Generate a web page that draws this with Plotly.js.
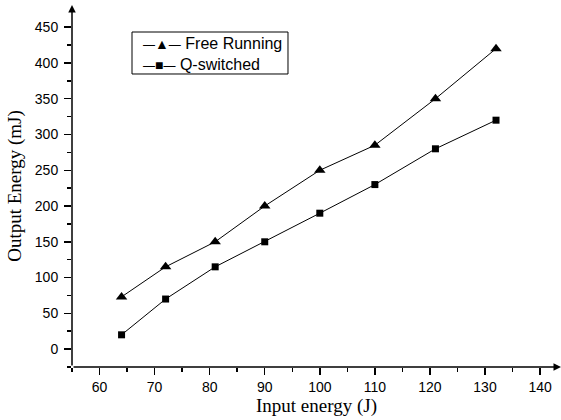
<!DOCTYPE html>
<html>
<head>
<meta charset="utf-8">
<script src="https://cdn.plot.ly/plotly-3.0.1.min.js"></script>
<style>html,body{margin:0;padding:0;background:#fff;}#chart{width:561px;height:420px;}</style>
</head>
<body>
<div id="chart"></div>
<script>
var seriesNames = ['Free Running', 'Q-switched'];
var seriesSymbols = ['▲', '■'];
var inputEnergy = [64, 72, 81, 90, 100, 110, 121, 132];
var freeRunning = [73, 115, 150, 200, 250, 285, 350, 420];
var qSwitched = [20, 70, 115, 150, 190, 230, 280, 320];
var xTickVals = [60, 70, 80, 90, 100, 110, 120, 130, 140];
var xMinorVals = [55, 65, 75, 85, 95, 105, 115, 125, 135];
var yTickVals = [0, 50, 100, 150, 200, 250, 300, 350, 400, 450];
var yMinorVals = [-25, 25, 75, 125, 175, 225, 275, 325, 375, 425];

var xMin = 55, xMax = 143.8, yMin = -25, yMax = 481;

var traces = [
  {x: inputEnergy, y: freeRunning, name: seriesNames[0], type: 'scatter', mode: 'lines+markers',
   line: {color: '#000', width: 1}, marker: {symbol: 'triangle-up', size: 10, color: '#000'}},
  {x: inputEnergy, y: qSwitched, name: seriesNames[1], type: 'scatter', mode: 'lines+markers',
   line: {color: '#000', width: 1}, marker: {symbol: 'square', size: 7, color: '#000'}}
];

var tickFont = {family: 'Liberation Sans, Arial, sans-serif', size: 14, color: '#000'};
var titleFont = {family: 'Liberation Serif, Times New Roman, serif', size: 19, color: '#000'};

var legendText = seriesNames.map(function (n, i) {
  return '<span style="font-size:12px">—</span>' +
         '<span style="font-size:14px">' + seriesSymbols[i] + '</span>' +
         '<span style="font-size:12px">—</span> ' + n;
}).join('<br>');

var layout = {
  width: 561, height: 420,
  margin: {l: 72, r: 0, t: 5, b: 53},
  paper_bgcolor: '#fff', plot_bgcolor: '#fff',
  showlegend: false,
  xaxis: {range: [xMin, xMax], tickmode: 'array', tickvals: xTickVals, ticktext: xTickVals.map(String),
          ticks: 'outside', ticklen: 7, tickwidth: 1.5, tickcolor: '#000',
          minor: {tickmode: 'array', tickvals: xMinorVals, ticks: 'outside', ticklen: 4, tickwidth: 1.5, tickcolor: '#000'},
          showgrid: false, zeroline: false, showline: false, tickfont: tickFont,
          title: {text: 'Input energy (J)', font: titleFont, standoff: 3}},
  yaxis: {range: [yMin, yMax], tickmode: 'array', tickvals: yTickVals, ticktext: yTickVals.map(String),
          ticks: 'outside', ticklen: 7, tickwidth: 1.5, tickcolor: '#000',
          minor: {tickmode: 'array', tickvals: yMinorVals, ticks: 'outside', ticklen: 4, tickwidth: 1.5, tickcolor: '#000'},
          showgrid: false, zeroline: false, showline: false, tickfont: tickFont, ticklabelstandoff: 3,
          title: {text: 'Output Energy (mJ)', font: titleFont, standoff: 8}},
  shapes: [
    {type: 'rect', xref: 'paper', yref: 'paper', x0: 0.1227, x1: 0.4417, y0: 0.8094, y1: 0.9254,
     line: {color: '#000', width: 1}, fillcolor: '#fff', layer: 'above'}
  ],
  annotations: [
    {x: xMax, y: yMin, ax: xMin, ay: yMin, xref: 'x', yref: 'y', axref: 'x', ayref: 'y',
     text: '', showarrow: true, arrowhead: 2, arrowsize: 1, arrowwidth: 1.5, arrowcolor: '#000', standoff: 0, startstandoff: 0},
    {x: xMin, y: yMax, ax: xMin, ay: yMin, xref: 'x', yref: 'y', axref: 'x', ayref: 'y',
     text: '', showarrow: true, arrowhead: 2, arrowsize: 1, arrowwidth: 1.5, arrowcolor: '#000', standoff: 0, startstandoff: 0},
    {x: 0.1431, y: 0.92, xref: 'paper', yref: 'paper', xanchor: 'left', yanchor: 'top',
     text: legendText, showarrow: false, align: 'left', borderpad: 0,
     font: {family: 'Liberation Sans, Arial, sans-serif', size: 16, color: '#000'}}
  ]
};

Plotly.newPlot('chart', traces, layout, {displayModeBar: false, staticPlot: true});
</script>
</body>
</html>
